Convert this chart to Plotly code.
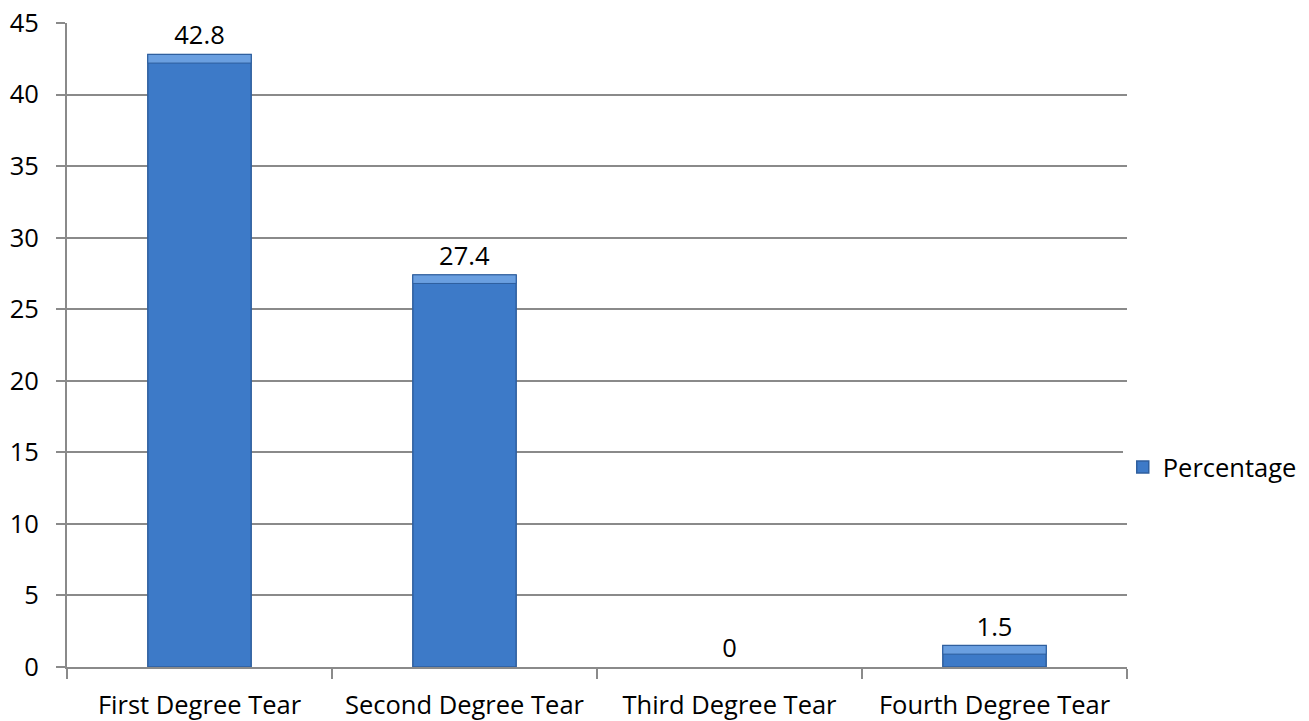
import plotly.graph_objects as go

categories = ["First Degree Tear", "Second Degree Tear", "Third Degree Tear", "Fourth Degree Tear"]
percentage = [42.8, 27.4, 0, 1.5]
y_ticks = [0, 5, 10, 15, 20, 25, 30, 35, 40, 45]

FONT = "'Open Sans', sans-serif"
FS = 25.5
GRID = "#8a8a8a"
BAR_W = 0.39
BEVEL = 0.6  # depth of the lighter top edge, in axis units

fig = go.Figure()
fig.add_trace(go.Bar(
    x=categories,
    y=percentage,
    name="Percentage",
    marker=dict(
        color="#3d7ac8",
        line=dict(color="#2f5f9e", width=[1.5 if v > 0 else 0 for v in percentage]),
    ),
    text=[f"{v:g}" for v in percentage],
    textposition="outside",
    textfont=dict(size=FS, color="#000000", family=FONT),
    cliponaxis=False,
    width=BAR_W,
))

# lighter top edge on each non-zero bar
top_cats = [c for c, v in zip(categories, percentage) if v > 0]
top_vals = [v for v in percentage if v > 0]
fig.add_trace(go.Bar(
    x=top_cats,
    y=[BEVEL] * len(top_vals),
    base=[v - BEVEL for v in top_vals],
    marker=dict(color="#6a9fe0", line=dict(color="#2f5f9e", width=1)),
    width=BAR_W,
    showlegend=False,
    hoverinfo="skip",
))

fig.update_layout(
    width=1309,
    height=721,
    margin=dict(l=67, r=182, t=23, b=54, autoexpand=False),
    paper_bgcolor="white",
    plot_bgcolor="white",
    barmode="overlay",
    font=dict(family=FONT, size=FS, color="#000000"),
    showlegend=True,
    legend=dict(
        x=0.996, y=0.31, xanchor="left", yanchor="middle",
        font=dict(size=FS, family=FONT),
        itemwidth=30,
    ),
    xaxis=dict(
        automargin=False,
        showline=True, linecolor=GRID, linewidth=2,
        ticks="outside", tickson="boundaries", ticklen=10, tickcolor=GRID, tickwidth=2,
        showgrid=False,
        tickfont=dict(size=FS, family=FONT),
        ticklabelstandoff=14,
    ),
    yaxis=dict(
        automargin=False,
        range=[0, 45],
        tickvals=y_ticks,
        showline=True, linecolor=GRID, linewidth=2,
        ticks="outside", ticklen=9, tickcolor=GRID, tickwidth=2,
        showgrid=True, gridcolor=GRID, gridwidth=2,
        zeroline=False,
        tickfont=dict(size=FS, family=FONT),
        ticklabelstandoff=12,
    ),
)

fig.write_html("out.html")
